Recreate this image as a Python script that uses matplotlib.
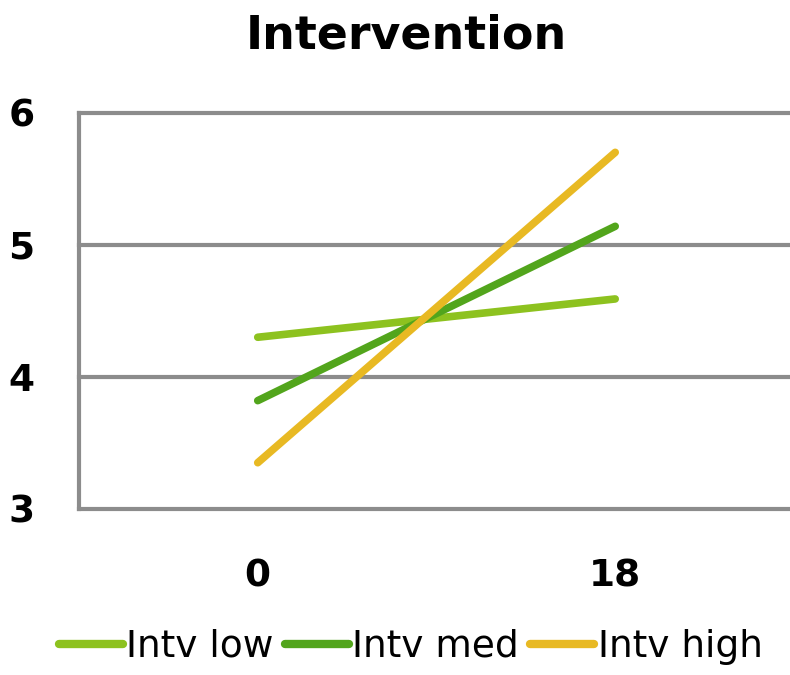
import matplotlib.pyplot as plt
import numpy as np

categories = ['0', '18']
intv_low = [4.30, 4.59]
intv_med = [3.82, 5.14]
intv_high = [3.35, 5.70]

series = [
    ('Intv low', intv_low, '#8dc21f'),
    ('Intv med', intv_med, '#52a51c'),
    ('Intv high', intv_high, '#e8b923'),
]

plt.rcParams['font.family'] = ['DejaVu Sans']

fig = plt.figure(figsize=(7.9, 6.75), dpi=100)
ax = fig.add_axes([0.1, 0.246, 0.905, 0.587])

x = np.arange(len(categories))
for name, vals, color in series:
    ax.plot(x, vals, color=color, lw=5.5, solid_capstyle='round', label=name, zorder=3)

ax.set_xlim(-0.5, len(categories) - 0.5)
ax.set_ylim(3, 6)
ax.set_yticks([3, 4, 5, 6])
ax.set_xticks(x)
ax.set_xticklabels(categories)

# horizontal gridlines and left axis in gray
for yv in [3, 4, 5, 6]:
    ax.axhline(yv, color='#8c8c8c', lw=3, zorder=2, clip_on=False)
for side in ['top', 'right', 'bottom']:
    ax.spines[side].set_visible(False)
ax.spines['left'].set_color('#8c8c8c')
ax.spines['left'].set_linewidth(3)

ax.tick_params(axis='both', length=0, labelsize=27)
ax.tick_params(axis='y', pad=32)
ax.tick_params(axis='x', pad=36)
for lbl in ax.get_xticklabels() + ax.get_yticklabels():
    lbl.set_fontweight('bold')

fig.suptitle('Intervention', fontsize=33, fontweight='bold', y=0.98, x=0.515)

leg = fig.legend(loc='lower center', bbox_to_anchor=(0.52, -0.035), ncol=3, frameon=False,
                 fontsize=27, handlelength=1.7, handletextpad=0.1, columnspacing=0.3)
for line in leg.get_lines():
    line.set_linewidth(6)

fig.savefig('out.png', dpi=100)
